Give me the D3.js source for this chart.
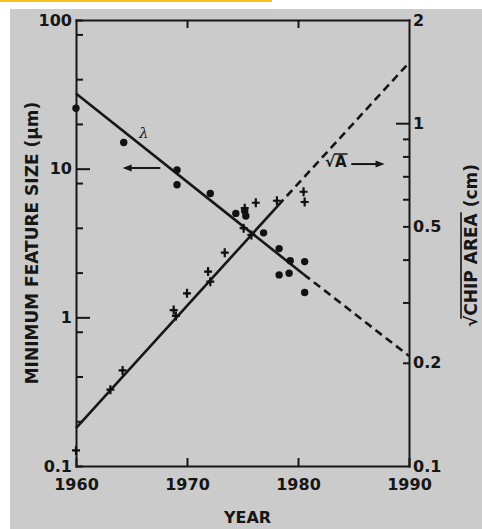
<!DOCTYPE html>
<html>
<head>
<meta charset="utf-8" />
<title>Minimum feature size and chip area</title>
<style>
body { margin: 0; background: #fff; }
svg text { font-family: "DejaVu Sans", sans-serif; font-weight: bold; fill: #161616; }
.axis path, .axis line { stroke: #161616; stroke-width: 2; }
.axis text { font-size: 16px; }
.fit { fill: none; stroke: #161616; stroke-width: 2.6; }
</style>
</head>
<body>
<div id="graph"></div>
<script src="https://d3js.org/d3.v7.min.js"></script>
<script>
// minimum feature size (lambda, um) - dots, left axis
var lambdaYears = [1960, 1964.3, 1969.1, 1969.1, 1972.1, 1974.4, 1975.2, 1975.3, 1976.9, 1978.3, 1978.3, 1979.2, 1979.3, 1980.6, 1980.6];
var lambdaValues = [25.5, 15, 9.8, 7.8, 6.8, 5.0, 5.2, 4.8, 3.7, 2.9, 1.93, 1.98, 2.4, 2.37, 1.47];

// sqrt(chip area) (cm) - crosses, right axis
var areaYears = [1960, 1963.1, 1964.2, 1968.8, 1969.0, 1970.0, 1971.9, 1972.1, 1973.4, 1975.1, 1975.2, 1975.8, 1976.2, 1978.1, 1980.5, 1980.6];
var areaValues = [0.111, 0.167, 0.19, 0.285, 0.274, 0.319, 0.369, 0.345, 0.419, 0.494, 0.565, 0.472, 0.586, 0.594, 0.631, 0.589];

// fitted trend lines: solid part then dashed extrapolation
var lambdaFitYears = [1960, 1980.5, 1990];
var lambdaFitValues = [32, 1.95, 0.55];
var areaFitYears = [1960, 1978.2, 1990];
var areaFitValues = [0.129, 0.575, 1.5];

// tick values and labels
var yearTicks = [1960, 1970, 1980, 1990];
var topTicks = [1970, 1980];
var leftTicks = [0.1, 0.2, 0.4, 0.8, 1, 2, 4, 8, 10, 20, 40, 80, 100];
var leftLabels = { 0.1: "0.1", 1: "1", 10: "10", 100: "100" };
var rightTicks = [0.1, 0.2, 0.3, 0.4, 0.5, 0.6, 0.7, 0.8, 0.9, 1, 2];
var rightLabels = { 0.1: "0.1", 0.2: "0.2", 0.5: "0.5", 1: "1", 2: "2" };

!(function(){
    "use strict"
    var width = 482, height = 529;
    var margin = {top:20, left:76, bottom:63, right:73};
    var chartWidth = width - (margin.left + margin.right);
    var chartHeight = height - (margin.top + margin.bottom);

    var svg = d3.select("#graph").append("svg")
        .attr("width", width).attr("height", height);

    // page background: yellow strip, gray scan area
    svg.append("rect").attr("x", 0).attr("y", 0).attr("width", 272).attr("height", 2).attr("fill", "#f4c21c");
    svg.append("rect").attr("x", 10).attr("y", 9).attr("width", width - 10).attr("height", height - 9).attr("fill", "#cbcbcb");

    var xScale = d3.scaleLinear().domain([1960, 1990]).range([0, chartWidth]);
    var yLeft = d3.scaleLog().domain([0.1, 100]).range([chartHeight, 0]);
    var yRight = d3.scaleLog().domain([0.1, 2]).range([chartHeight, 0]);

    var chart = svg.append("g").attr("transform", "translate(" + [margin.left, margin.top] + ")");

    // axes
    var leftAxis = chart.append("g").attr("class", "axis")
        .call(d3.axisLeft(yLeft).tickValues(leftTicks).tickSizeInner(-7).tickSizeOuter(0).tickPadding(4)
            .tickFormat(function(d){ return leftLabels[d] || "" }));
    leftAxis.selectAll(".tick line").attr("x2", function(d){ return (d === 1 || d === 10) ? 14 : 7 });

    var rightAxis = chart.append("g").attr("class", "axis")
        .attr("transform", "translate(" + chartWidth + ",0)")
        .call(d3.axisRight(yRight).tickValues(rightTicks).tickSizeInner(-6).tickSizeOuter(0).tickPadding(4)
            .tickFormat(function(d){ return rightLabels[d] || "" }));
    rightAxis.selectAll(".tick line").attr("x2", function(d){ return d === 1 ? -13 : (d === 2 || d === 0.1 ? 0 : -6) });

    chart.append("g").attr("class", "axis")
        .attr("transform", "translate(0," + chartHeight + ")")
        .call(d3.axisBottom(xScale).tickValues(yearTicks).tickSizeInner(-8).tickSizeOuter(0).tickPadding(13)
            .tickFormat(d3.format("d")));

    chart.append("g").attr("class", "axis")
        .call(d3.axisTop(xScale).tickValues(topTicks).tickSizeInner(-8).tickSizeOuter(0).tickFormat(""));

    chart.selectAll(".axis .domain").attr("stroke-linecap", "square");

    // trend lines
    var lambdaFit = lambdaFitYears.map(function(y, i){ return {year: y, v: lambdaFitValues[i]} });
    var areaFit = areaFitYears.map(function(y, i){ return {year: y, v: areaFitValues[i]} });
    var lineLeft = d3.line().x(function(d){ return xScale(d.year) }).y(function(d){ return yLeft(d.v) });
    var lineRight = d3.line().x(function(d){ return xScale(d.year) }).y(function(d){ return yRight(d.v) });

    chart.append("path").attr("class", "fit").attr("d", lineLeft(lambdaFit.slice(0, 2)));
    chart.append("path").attr("class", "fit").attr("stroke-dasharray", "8 5").attr("d", lineLeft(lambdaFit.slice(1)));
    chart.append("path").attr("class", "fit").attr("d", lineRight(areaFit.slice(0, 2)));
    chart.append("path").attr("class", "fit").attr("stroke-dasharray", "8 5").attr("d", lineRight(areaFit.slice(1)));

    // points
    var lambdaData = lambdaYears.map(function(y, i){ return {year: y, v: lambdaValues[i]} });
    var areaData = areaYears.map(function(y, i){ return {year: y, v: areaValues[i]} });

    chart.selectAll(".dot").data(lambdaData).enter().append("circle").attr("class", "dot")
        .attr("cx", function(d){ return xScale(d.year) })
        .attr("cy", function(d){ return yLeft(d.v) })
        .attr("r", 3.7).attr("fill", "#111");

    chart.selectAll(".cross").data(areaData).enter().append("path").attr("class", "cross")
        .attr("transform", function(d){ return "translate(" + [xScale(d.year), yRight(d.v)] + ")" })
        .attr("d", "M-4,0H4M0,-4.5V4.5")
        .attr("stroke", "#111").attr("stroke-width", 2.2).attr("fill", "none");
    chart.selectAll(".crossc").data(areaData).enter().append("circle").attr("class", "crossc")
        .attr("cx", function(d){ return xScale(d.year) })
        .attr("cy", function(d){ return yRight(d.v) })
        .attr("r", 1.8).attr("fill", "#111");

    // annotations: lambda with arrow to the left axis, sqrt(A) with arrow to the right axis
    chart.append("text").attr("x", xScale(1966.1)).attr("y", yLeft(16))
        .attr("font-size", 15).style("font-family", "DejaVu Serif, serif").style("font-style", "italic")
        .style("font-weight", "normal").attr("text-anchor", "middle").text("λ");

    var arrow = function(x1, x2, y, dir) {
        chart.append("line").attr("x1", x1).attr("x2", x2 - dir * 6).attr("y1", y).attr("y2", y)
            .attr("stroke", "#161616").attr("stroke-width", 2);
        chart.append("path").attr("fill", "#161616")
            .attr("d", "M" + x2 + "," + y + "L" + (x2 - dir * 9) + "," + (y - 3.5) + "L" + (x2 - dir * 9) + "," + (y + 3.5) + "Z");
    };
    arrow(xScale(1967.6), xScale(1964.2), yLeft(10.1), -1);
    arrow(xScale(1984.8), xScale(1987.8), yRight(0.76), 1);

    var sq = chart.append("text").attr("x", xScale(1983.4)).attr("y", yRight(0.745))
        .attr("font-size", 15).attr("text-anchor", "middle").text("√A");
    var sqn = sq.node();
    var a0 = sqn.getStartPositionOfChar(1), a1 = sqn.getEndPositionOfChar(1);
    chart.append("line").attr("x1", a0.x - 1).attr("x2", a1.x + 1)
        .attr("y1", a0.y - 13).attr("y2", a0.y - 13).attr("stroke", "#161616").attr("stroke-width", 1.5);

    // axis titles
    svg.append("text").attr("transform", "translate(38," + (margin.top + chartHeight / 2 + 0) + ") rotate(-90)")
        .attr("text-anchor", "middle").attr("font-size", 17).text("MINIMUM FEATURE SIZE (μm)");

    svg.append("text").attr("x", margin.left + chartWidth * 0.515).attr("y", 523)
        .attr("text-anchor", "middle").attr("font-size", 16).text("YEAR");

    var rt = svg.append("g").attr("transform", "translate(477,327) rotate(-90)");
    var rtext = rt.append("text").attr("x", 0).attr("y", 0).attr("font-size", 17).text("√CHIP AREA (cm)");
    var rn = rtext.node();
    var p0 = rn.getStartPositionOfChar(1), p1 = rn.getEndPositionOfChar(9);
    rt.append("line").attr("x1", p0.x - 3).attr("x2", p1.x + 1).attr("y1", -16).attr("y2", -16)
        .attr("stroke", "#161616").attr("stroke-width", 1.6);
}());
</script>
</body>
</html>
